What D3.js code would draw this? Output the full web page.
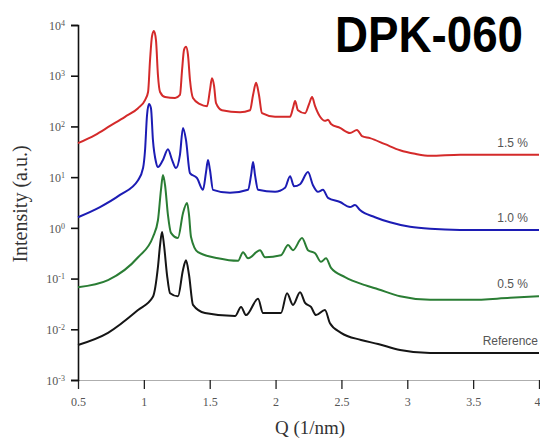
<!DOCTYPE html>
<html>
<head>
  <meta charset="utf-8">
  <title>DPK-060 SAXS</title>
  <script src="https://d3js.org/d3.v7.min.js"></script>
  <style>
    body { margin: 0; background: #fff; }
    svg { display: block; }
  </style>
</head>
<body>
  <div id="chart"></div>
  <script>
    // Q in 1/nm, intensity given as log10(I)
    var red = [[0.50,1.67],[0.629,1.83],[0.743,2.01],[0.857,2.19],[0.956,2.36],[1.009,2.52],[1.032,2.68],[1.047,3.31],[1.062,3.78],[1.077,3.88],[1.092,3.70],[1.107,3.01],[1.123,2.68],[1.161,2.58],[1.237,2.56],[1.274,2.62],[1.290,3.11],[1.305,3.51],[1.320,3.57],[1.335,3.41],[1.350,2.92],[1.373,2.56],[1.426,2.44],[1.480,2.40],[1.502,2.72],[1.517,2.95],[1.533,2.80],[1.548,2.46],[1.593,2.32],[1.730,2.28],[1.806,2.32],[1.829,2.62],[1.852,2.86],[1.874,2.62],[1.897,2.26],[1.996,2.19],[2.110,2.19],[2.132,2.36],[2.148,2.50],[2.170,2.32],[2.224,2.26],[2.254,2.44],[2.277,2.58],[2.300,2.40],[2.338,2.19],[2.375,2.11],[2.398,2.13],[2.421,2.05],[2.489,1.97],[2.565,1.87],[2.618,1.93],[2.656,1.81],[2.717,1.77],[2.831,1.65],[2.945,1.53],[3.059,1.46],[3.173,1.42],[3.401,1.44],[3.704,1.44],[4.0,1.44]];
    var blue = [[0.50,0.21],[0.667,0.41],[0.819,0.65],[0.956,0.94],[0.994,1.18],[1.009,1.53],[1.024,2.22],[1.039,2.44],[1.054,2.36],[1.069,1.73],[1.092,1.30],[1.107,1.20],[1.145,1.34],[1.183,1.55],[1.214,1.34],[1.244,1.18],[1.274,1.44],[1.297,1.97],[1.320,1.73],[1.350,1.08],[1.404,0.98],[1.449,0.75],[1.472,1.10],[1.487,1.34],[1.502,1.14],[1.525,0.75],[1.654,0.69],[1.791,0.75],[1.814,1.04],[1.829,1.30],[1.844,1.04],[1.867,0.75],[1.996,0.71],[2.072,0.79],[2.110,1.02],[2.140,0.82],[2.186,0.86],[2.246,1.10],[2.284,0.84],[2.322,0.71],[2.360,0.75],[2.398,0.59],[2.489,0.51],[2.565,0.41],[2.603,0.45],[2.641,0.35],[2.755,0.21],[2.869,0.11],[3.021,0.02],[3.173,-0.02],[3.401,-0.04],[4.0,-0.04]];
    var green = [[0.50,-1.17],[0.728,-1.03],[0.956,-0.58],[1.069,-0.18],[1.107,0.15],[1.130,0.75],[1.145,1.04],[1.161,0.84],[1.183,0.25],[1.206,-0.10],[1.259,-0.20],[1.297,0.29],[1.328,0.49],[1.343,0.25],[1.358,-0.18],[1.411,-0.48],[1.563,-0.60],[1.715,-0.65],[1.753,-0.48],[1.791,-0.60],[1.882,-0.44],[1.920,-0.58],[2.041,-0.54],[2.095,-0.34],[2.132,-0.44],[2.201,-0.20],[2.246,-0.44],[2.300,-0.50],[2.345,-0.67],[2.383,-0.60],[2.421,-0.79],[2.527,-0.97],[2.679,-1.13],[2.778,-1.21],[2.945,-1.35],[3.173,-1.42],[3.477,-1.42],[3.780,-1.38],[4.0,-1.35]];
    var reference = [[0.50,-2.31],[0.728,-2.07],[0.956,-1.62],[1.069,-1.36],[1.107,-0.77],[1.123,-0.34],[1.138,-0.08],[1.153,-0.34],[1.176,-0.93],[1.199,-1.29],[1.259,-1.35],[1.297,-0.83],[1.320,-0.64],[1.343,-0.93],[1.373,-1.52],[1.464,-1.68],[1.692,-1.74],[1.738,-1.56],[1.776,-1.72],[1.867,-1.40],[1.905,-1.68],[2.041,-1.68],[2.087,-1.29],[2.132,-1.52],[2.186,-1.27],[2.224,-1.48],[2.269,-1.56],[2.307,-1.72],[2.375,-1.62],[2.413,-1.88],[2.497,-2.07],[2.649,-2.21],[2.778,-2.29],[2.945,-2.41],[3.173,-2.47],[4.0,-2.47]];

    var seriesNames = ["1.5 %", "1.0 %", "0.5 %", "Reference"];
    var seriesColors = ["#d42a2a", "#1c1cb4", "#2a7d34", "#151515"];
    var seriesData = [red, blue, green, reference];

    var xTicks = [0.5, 1, 1.5, 2, 2.5, 3, 3.5, 4];
    var yExponents = [4, 3, 2, 1, 0, -1, -2, -3];

    var width = 540, height = 438;
    var margin = { left: 78, right: 1, top: 25, bottom: 58 };

    var svg = d3.select("#chart").append("svg")
      .attr("width", width).attr("height", height);

    var x = d3.scaleLinear().domain([0.5, 4]).range([margin.left, width - margin.right]);
    var y = d3.scaleLog().domain([1e-3, 1e4]).range([height - margin.bottom, margin.top]);

    var line = d3.line()
      .x(d => x(d[0]))
      .y(d => y(Math.pow(10, d[1])))
      .curve(d3.curveMonotoneX);

    // bottom axis
    var xAxis = svg.append("g")
      .attr("transform", "translate(0," + (height - margin.bottom) + ")")
      .call(d3.axisBottom(x).tickValues(xTicks).tickSize(9).tickFormat(d3.format("")));
    xAxis.select(".domain").attr("stroke", "#999").attr("stroke-width", 0.8);
    xAxis.selectAll(".tick line").attr("stroke", "#222").attr("stroke-width", 1.3);
    xAxis.selectAll(".tick text")
      .attr("dy", "1.2em")
      .attr("text-anchor", d => d === 4 ? "end" : "middle")
      .attr("x", d => d === 4 ? 1 : 0)
      .attr("font-family", "Liberation Serif, serif").attr("font-size", 12).attr("fill", "#555");

    // left axis
    var yAxis = svg.append("g")
      .attr("transform", "translate(" + margin.left + ",0)")
      .call(d3.axisLeft(y).tickValues(yExponents.map(e => Math.pow(10, e))).tickSize(7).tickFormat(""));
    yAxis.select(".domain").attr("stroke", "#111").attr("stroke-width", 1.6);
    yAxis.selectAll(".tick line").attr("stroke", "#111").attr("stroke-width", 1.6);
    yAxis.selectAll(".tick").each(function (d, i) {
      var t = d3.select(this).append("text")
        .attr("x", -13).attr("dy", "0.35em")
        .attr("text-anchor", "end")
        .attr("font-family", "Liberation Serif, serif").attr("font-size", 12).attr("fill", "#555");
      t.append("tspan").text("10");
      t.append("tspan").attr("dy", "-0.5em").attr("font-size", 8).text(yExponents[i]);
    });

    // curves
    svg.append("g").selectAll("path")
      .data(seriesData)
      .join("path")
      .attr("fill", "none")
      .attr("stroke", (d, i) => seriesColors[i])
      .attr("stroke-width", 2)
      .attr("stroke-linejoin", "round")
      .attr("d", line);

    // series labels, sitting just above each curve's tail
    svg.append("g").selectAll("text")
      .data(seriesData)
      .join("text")
      .attr("x", (d, i) => i === 3 ? width - 2 : width - 12)
      .attr("y", d => y(Math.pow(10, d[d.length - 1][1])) - 8)
      .attr("text-anchor", "end")
      .attr("font-family", "Liberation Sans, sans-serif")
      .attr("font-size", 12)
      .attr("fill", "#555")
      .text((d, i) => seriesNames[i]);

    // axis titles
    svg.append("text")
      .attr("x", 310).attr("y", 434)
      .attr("text-anchor", "middle")
      .attr("font-family", "Liberation Serif, serif").attr("font-size", 19).attr("fill", "#333")
      .text("Q (1/nm)");
    svg.append("text")
      .attr("transform", "translate(27,204) rotate(-90)")
      .attr("text-anchor", "middle")
      .attr("font-family", "Liberation Serif, serif").attr("font-size", 20).attr("fill", "#333")
      .text("Intensity (a.u.)");

    // title
    svg.append("text")
      .attr("x", 335).attr("y", 52)
      .attr("font-family", "Liberation Sans, Arial, sans-serif")
      .attr("font-weight", "bold").attr("font-size", 50)
      .attr("textLength", 188).attr("lengthAdjust", "spacingAndGlyphs")
      .attr("fill", "#000")
      .text("DPK-060");
  </script>
</body>
</html>
